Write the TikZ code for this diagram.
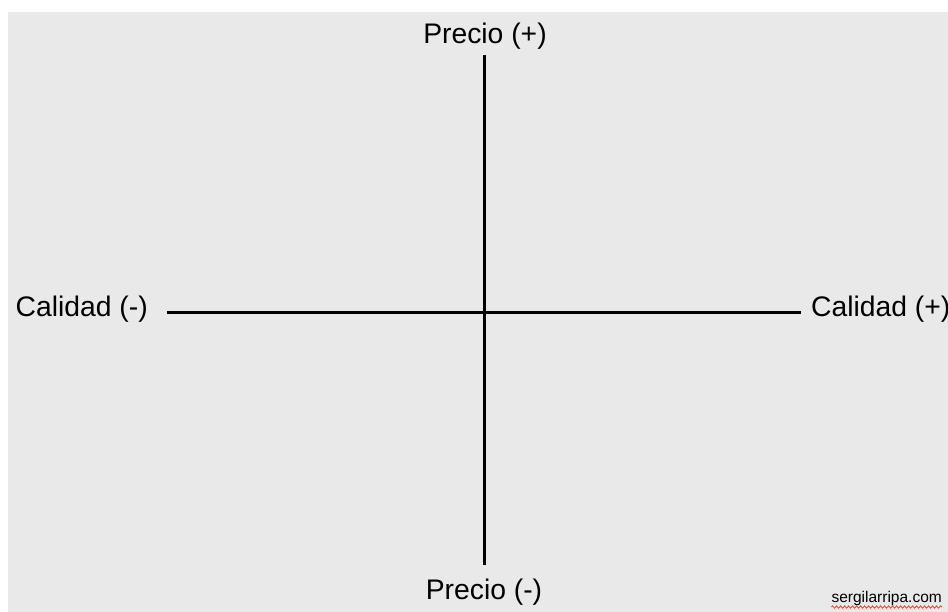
\documentclass[tikz,border=0pt]{standalone}
\usepackage{fontspec}
\setmainfont{Liberation Sans}
\definecolor{mPaleBg}{HTML}{E9E9E9}
\definecolor{mSpellRed}{HTML}{E0453A}
\usetikzlibrary{positioning,decorations.pathmorphing}

\begin{document}
\begin{tikzpicture}[x=1pt, y=-1pt, axis/.style={line width=3pt, black}, lbl/.style={inner sep=0pt, font=\fontsize{28.3}{31}\selectfont}]
\useasboundingbox (0,0) rectangle (948,612);
\fill[white] (0,0) rectangle (948,612);
\fill[mPaleBg] (8,12) rectangle (948,612);
\node[lbl, anchor=base] (pup) at (485,44) {Precio (+)};
\node[lbl, anchor=base] (pdown) at (484,599) {Precio (-)};
\node[lbl, anchor=base east] (cneg) at (148,317) {Calidad (-)};
\node[lbl, anchor=base west] (cpos) at (811,317) {Calidad (+)};
\node[inner sep=0pt, anchor=base east, font=\fontsize{15.5}{17}\selectfont] (web) at (942,602) {sergilarripa.com};
\coordinate (ytop) at (484,55); \coordinate (ybot) at (484,565);
\coordinate (xleft) at (167,313); \coordinate (xright) at (801,313);
\draw[axis] (ytop)--(ybot); \draw[axis] (xleft)--(xright);
\draw[mSpellRed, line width=0.8pt, decorate, decoration={snake, amplitude=1.2pt, segment length=4pt}] ([yshift=-5pt]web.base west) -- ([yshift=-5pt]web.base east);
\end{tikzpicture}
\end{document}
